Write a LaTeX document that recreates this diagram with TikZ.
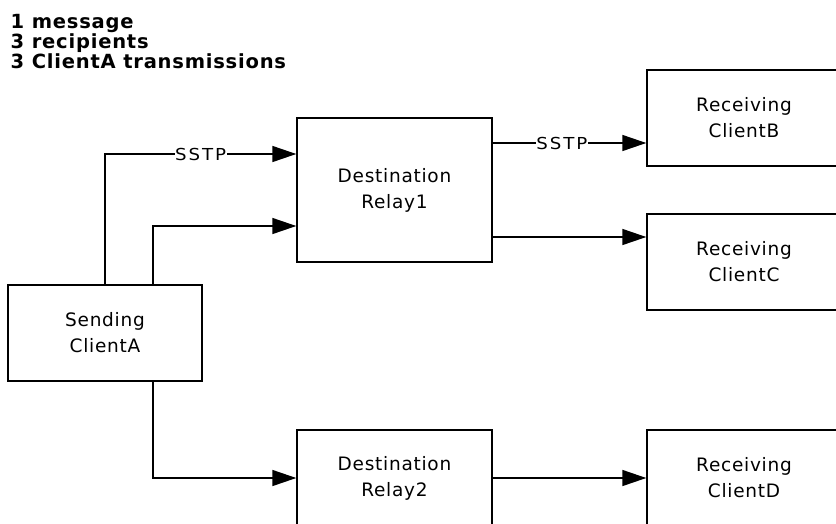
\documentclass[tikz,border=0pt]{standalone}
\usepackage{fontspec}
\setmainfont{DejaVu Sans}[LetterSpace=4]
\newfontfamily\sstpfont{DejaVu Sans}[FakeStretch=1.1, LetterSpace=12]
\usetikzlibrary{arrows.meta}
\usetikzlibrary{positioning}
\usetikzlibrary{calc}
\tikzstyle{box}=[draw, line width=1.4pt, minimum width=194pt, align=center, font={\fontsize{18.5}{26}\selectfont}]
\tikzstyle{lbl}=[fill=white, inner sep=0.5pt, font={\sstpfont\fontsize{16.5}{20}\selectfont}]

\begin{document}
\begin{tikzpicture}[x=1pt,y=-1pt,>={Triangle[length=24pt,width=16pt]},line width=1.4pt]
    \useasboundingbox (0,0) rectangle (836,523);
    \clip (0,0) rectangle (836,523);

    \node [anchor=north west, inner sep=0pt, align=left, font={\bfseries\fontsize{19.5}{18.5}\selectfont}] (note) at (10,13.5) {1 message\\3 recipients\\3 ClientA transmissions};

    \node [box, minimum height=96pt] (snd) at (105,333) {Sending\\ClientA};
    \node [box, minimum width=195pt, minimum height=144pt] (rl1) at (394.5,190) {Destination\\Relay1};
    \node [box, minimum width=195pt, minimum height=96pt] (rl2) [below of=rl1, node distance=288pt] {Destination\\Relay2};
    \node [box, minimum height=96pt] (rcb) at (744,118) {Receiving\\ClientB};
    \node [box, minimum height=96pt] (rcc) [below of=rcb, node distance=144pt] {Receiving\\ClientC};
    \node [box, minimum height=96pt] (rcd) [right of=rl2, node distance=349.5pt] {Receiving\\ClientD};

    \coordinate (i1) at ($(rl1.west)+(0,-36)$);
    \coordinate (i2) at ($(rl1.west)+(0,36)$);
    \coordinate (o1) at ($(rl1.east)+(0,-47)$);
    \coordinate (o2) at ($(rl1.east)+(0,47)$);

    \draw[->] (snd.north) |- node[lbl, pos=0.75] {SSTP} (i1);
    \draw[->] ($(snd.north)+(48,0)$) |- (i2);
    \draw[->] ($(snd.south)+(48,0)$) |- (rl2.west);

    \draw[->] (o1) -- node[lbl, pos=0.45] {SSTP} (o1 -| rcb.west);
    \draw[->] (o2) -- (o2 -| rcc.west);
    \draw[->] (rl2.east) -- (rcd.west);
\end{tikzpicture}
\end{document}
